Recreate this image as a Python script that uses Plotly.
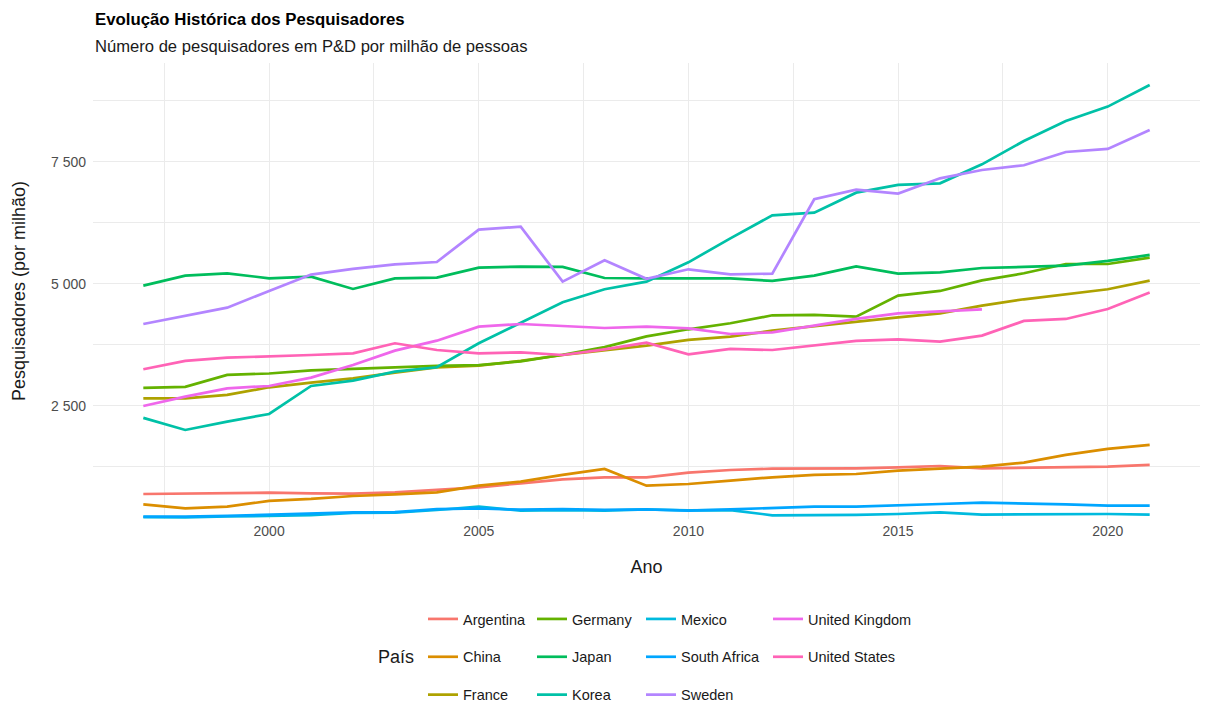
import plotly.graph_objects as go

years = list(range(1997, 2022))

argentina = [690, 704, 711, 717, 704, 697, 724, 779, 827, 909, 991, 1032, 1032, 1127, 1182, 1209, 1209, 1216, 1237, 1264, 1216, 1230, 1230, 1250, 1285]
china = [478, 396, 430, 547, 588, 649, 683, 724, 861, 943, 1080, 1203, 861, 895, 963, 1032, 1080, 1100, 1168, 1216, 1250, 1332, 1490, 1613, 1695]
france = [2651, 2651, 2720, 2877, 2972, 3061, 3177, 3287, 3321, 3417, 3539, 3628, 3731, 3850, 3916, 4039, 4134, 4223, 4312, 4394, 4551, 4681, 4783, 4886, 5064]
germany = [2865, 2885, 3130, 3160, 3225, 3253, 3287, 3318, 3330, 3410, 3545, 3700, 3920, 4066, 4189, 4353, 4360, 4326, 4756, 4852, 5070, 5214, 5405, 5405, 5535]
japan = [4961, 5166, 5214, 5111, 5146, 4893, 5111, 5125, 5330, 5351, 5344, 5118, 5111, 5111, 5111, 5057, 5166, 5357, 5207, 5234, 5323, 5344, 5371, 5467, 5590]
korea = [2250, 2002, 2173, 2330, 2904, 3013, 3198, 3287, 3779, 4203, 4620, 4886, 5043, 5439, 5931, 6403, 6457, 6867, 7025, 7059, 7448, 7927, 8337, 8631, 9075]
mexico = [215, 212, 228, 245, 255, 300, 305, 362, 430, 350, 360, 350, 372, 355, 360, 253, 253, 260, 280, 314, 267, 273, 280, 280, 267]
south_africa = [225, 225, 242, 266, 285, 314, 318, 378, 392, 368, 378, 365, 376, 349, 376, 410, 430, 430, 465, 485, 512, 499, 478, 451, 451]
sweden = [4175, 4339, 4510, 4852, 5187, 5303, 5398, 5446, 6109, 6170, 5043, 5480, 5100, 5296, 5193, 5207, 6731, 6929, 6847, 7161, 7332, 7428, 7701, 7763, 8152]
united_kingdom = [2494, 2685, 2856, 2904, 3075, 3335, 3628, 3833, 4121, 4175, 4134, 4093, 4121, 4086, 3970, 4004, 4141, 4278, 4394, 4442, 4476, None, None, None, None]
united_states = [3246, 3417, 3485, 3505, 3539, 3574, 3779, 3642, 3574, 3594, 3539, 3656, 3792, 3553, 3663, 3642, 3731, 3827, 3861, 3813, 3936, 4237, 4278, 4483, 4818]

countries = ["Argentina", "China", "France", "Germany", "Japan", "Korea",
             "Mexico", "South Africa", "Sweden", "United Kingdom", "United States"]
series = [argentina, china, france, germany, japan, korea,
          mexico, south_africa, sweden, united_kingdom, united_states]
colors = ["#F8766D", "#DB8E00", "#AEA200", "#64B200", "#00BD5C", "#00C1A7",
          "#00BADE", "#00A6FF", "#B385FF", "#EF67EB", "#FF63B6"]

y_tick_vals = [2500, 5000, 7500]
y_tick_text = ["2 500", "5 000", "7 500"]
y_minor_vals = [1250, 3750, 6250, 8750]
x_tick_vals = [2000, 2005, 2010, 2015, 2020]
x_minor_vals = [1997.5, 2002.5, 2007.5, 2012.5, 2017.5]

FONT = "Liberation Sans, Arial, sans-serif"

fig = go.Figure()
legend_names = ["legend", "legend2", "legend3", "legend4"]
for i, (name, vals, col) in enumerate(zip(countries, series, colors)):
    fig.add_trace(go.Scatter(
        x=years, y=vals, mode="lines", name=name,
        line=dict(color=col, width=2.7),
        legend=legend_names[i // 3], legendgroup=name,
        connectgaps=False,
    ))

M_L, M_R, M_T, M_B = 93, 5, 63, 184
W, H = 1205, 703
PH = H - M_T - M_B

def py(p):
    return (H - M_B - p) / PH

def px(p):
    return (p - M_L) / (W - M_L - M_R)

leg_common = dict(
    orientation="v", yanchor="top", xanchor="left",
    font=dict(family=FONT, size=14.5, color="#1a1a1a"),
    bgcolor="rgba(0,0,0,0)", borderwidth=0, tracegroupgap=16,
    itemclick=False,
)
legend_text_x = [463, 572, 681, 808]
layout_legends = {}
for k, ln in enumerate(legend_names):
    layout_legends[ln] = dict(leg_common, x=px(legend_text_x[k] - 40), y=py(603))

fig.update_layout(
    width=W, height=H,
    margin=dict(l=M_L, r=M_R, t=M_T, b=M_B, autoexpand=False),
    paper_bgcolor="white", plot_bgcolor="white",
    font=dict(family=FONT, color="#1a1a1a"),
    showlegend=True,
    xaxis=dict(
        range=[1995.8, 2022.2], tickmode="array", tickvals=x_tick_vals,
        ticktext=[str(v) for v in x_tick_vals],
        showgrid=True, gridcolor="#EBEBEB", gridwidth=1.2,
        minor=dict(tickmode="array", tickvals=x_minor_vals, showgrid=True,
                   gridcolor="#EBEBEB", gridwidth=0.6),
        zeroline=False, showline=False, ticks="", ticklabelstandoff=2,
        tickfont=dict(family=FONT, size=14, color="#4D4D4D"),
        title=dict(text="Ano", font=dict(family=FONT, size=18, color="#1a1a1a"), standoff=22),
        automargin=False,
    ),
    yaxis=dict(
        range=[177, 9525], tickmode="array", tickvals=y_tick_vals, ticktext=y_tick_text,
        showgrid=True, gridcolor="#EBEBEB", gridwidth=1.2,
        minor=dict(tickmode="array", tickvals=y_minor_vals, showgrid=True,
                   gridcolor="#EBEBEB", gridwidth=0.6),
        zeroline=False, showline=False, ticks="", ticklabelstandoff=6,
        tickfont=dict(family=FONT, size=14, color="#4D4D4D"),
        title=dict(text="Pesquisadores (por milhão)", font=dict(family=FONT, size=18, color="#1a1a1a"), standoff=20),
        automargin=False,
    ),
    annotations=[
        dict(text="<b>Evolução Histórica dos Pesquisadores</b>", xref="paper", yref="paper",
             x=px(93), y=py(20), xanchor="left", yanchor="middle", showarrow=False,
             font=dict(family=FONT, size=16.8, color="black")),
        dict(text="Número de pesquisadores em P&D por milhão de pessoas", xref="paper", yref="paper",
             x=px(93), y=py(46), xanchor="left", yanchor="middle", showarrow=False,
             font=dict(family=FONT, size=16.6, color="#1a1a1a")),
        dict(text="País", xref="paper", yref="paper",
             x=px(416), y=py(657), xanchor="right", yanchor="middle", showarrow=False,
             font=dict(family=FONT, size=18, color="#1a1a1a")),
    ],
    **layout_legends,
)

fig.write_html("out.html", config={"displayModeBar": False},
               post_script="document.body.style.margin='0px';document.body.style.overflow='hidden';")
